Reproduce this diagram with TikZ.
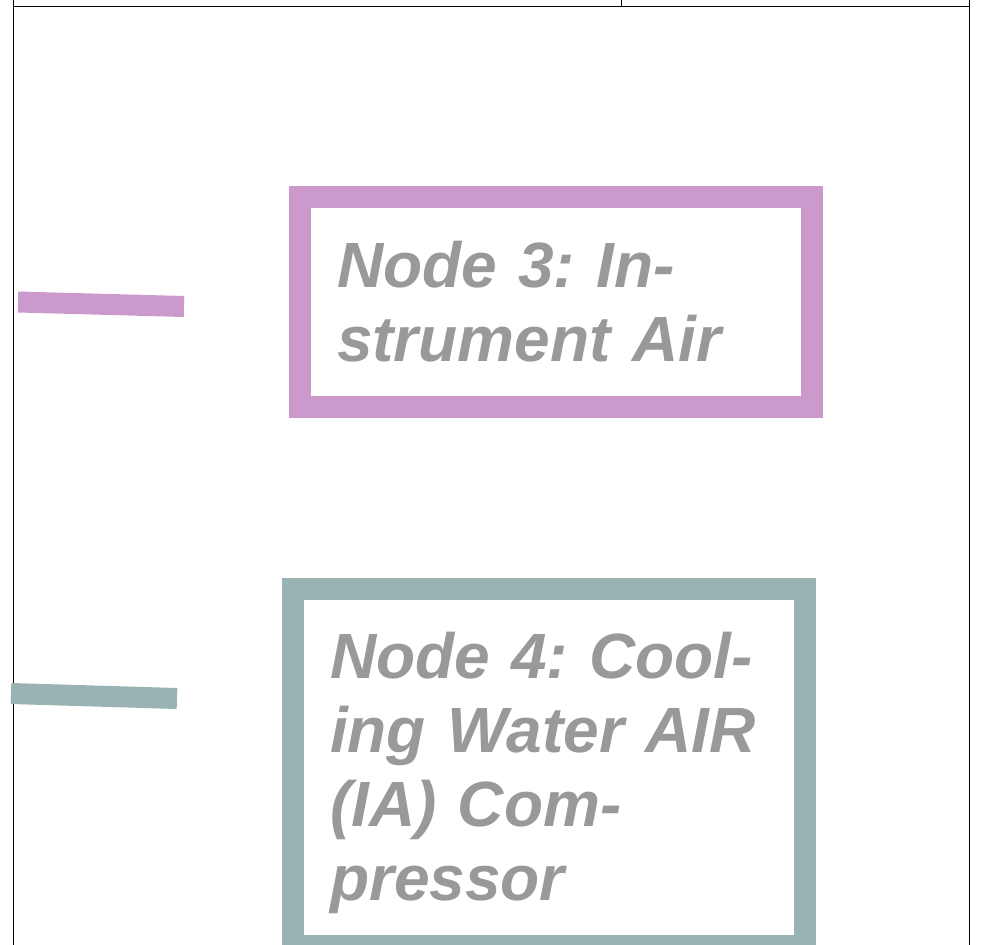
\documentclass[tikz,border=0pt]{standalone}
\usepackage{fontspec}
\setmainfont{Liberation Sans}
\usepackage{tikz}
\usetikzlibrary{calc}
\frenchspacing
\definecolor{airpink}{RGB}{204,153,204}
\definecolor{waterteal}{RGB}{153,179,179}
\definecolor{labelgray}{RGB}{153,153,153}
\tikzset{
	nodebox/.style={draw=#1, line width=22pt, rectangle, anchor=north west, outer sep=0pt,
		inner xsep=37pt, inner ysep=0pt, text width=437.5pt, align=left, text=labelgray,
		font=\fontsize{64}{74}\selectfont\bfseries\itshape, text height=90pt},
	stub/.style={line width=21pt, #1},
}

\begin{document}
\begin{tikzpicture}[x=1pt, y=-1pt]
			\useasboundingbox (0,0) rectangle (986,945);
			\draw[line width=1pt] (13,0) -- (13,945);
			\draw[line width=1pt] (969,0) -- (969,945);
			\draw[line width=1pt] (13,6) -- (969,6);
			\draw[line width=1pt] (621,0) -- (621,6);
			\node[nodebox=airpink, text depth=119.5pt] (air) at (300,197) {Node 3: In-\\strument Air};
			\node[nodebox=waterteal, text depth=267pt] (cooling) at (293,588.5) {Node 4: Cool-\\ing Water AIR\\(IA) Com-\\pressor};
			\coordinate (air-from) at (18,302);
			\coordinate (air-to) at (184,306.5);
			\coordinate (cooling-from) at (11,693.5);
			\coordinate (cooling-to) at (177,698.5);
			\draw[stub=airpink] (air-from) -- (air-to);
			\draw[stub=waterteal] (cooling-from) -- (cooling-to);
		\end{tikzpicture}
\end{document}
